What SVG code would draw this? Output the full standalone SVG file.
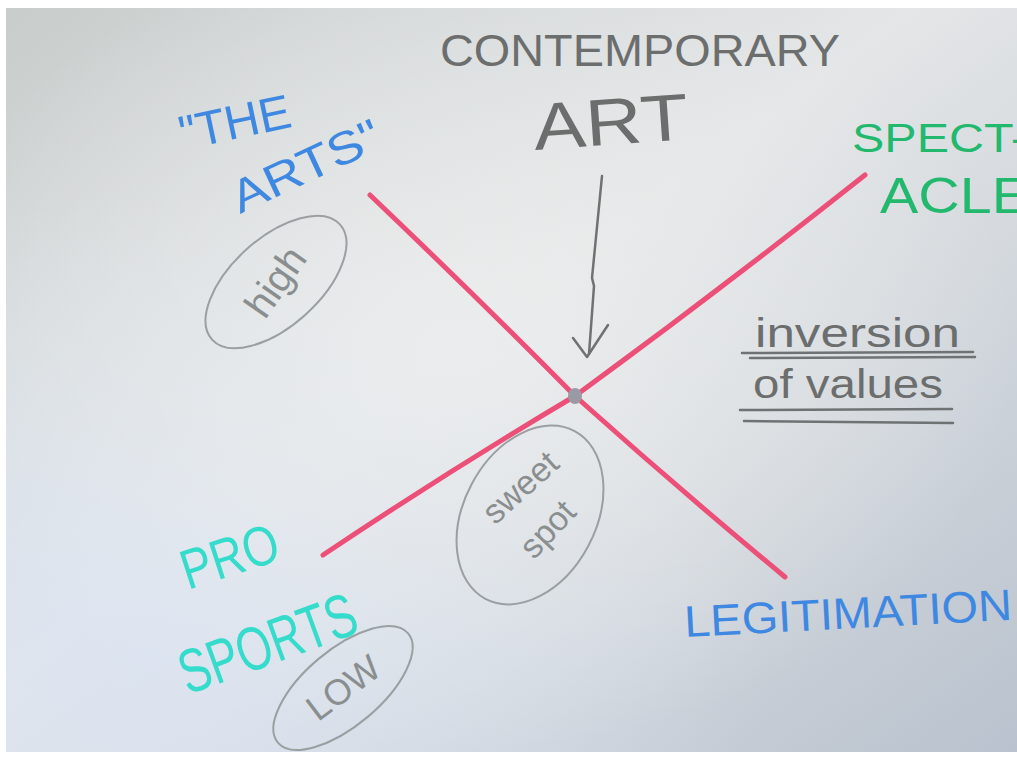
<svg xmlns="http://www.w3.org/2000/svg" width="1017" height="757" viewBox="0 0 1017 757">
  <defs>
    <linearGradient id="bg" x1="0" y1="0" x2="1" y2="1">
      <stop offset="0" stop-color="#c8cdcc"/>
      <stop offset="0.45" stop-color="#e4e6e7"/>
      <stop offset="1" stop-color="#b9c2ce"/>
    </linearGradient>
    <radialGradient id="glow" cx="0.15" cy="0.85" r="0.6">
      <stop offset="0" stop-color="#dbe4f2" stop-opacity="0.9"/>
      <stop offset="1" stop-color="#dbe4f2" stop-opacity="0"/>
    </radialGradient>
    <radialGradient id="light" cx="0.45" cy="0.45" r="0.55">
      <stop offset="0" stop-color="#eceeee" stop-opacity="0.85"/>
      <stop offset="1" stop-color="#eceeee" stop-opacity="0"/>
    </radialGradient>
  </defs>
  <style>
    text { font-family: "Liberation Sans", "DejaVu Sans", sans-serif; }
    .gray { fill: #6c6e6e; }
    .pencil { fill: #8a8e8f; }
    .blue { fill: #3f88e2; }
    .green { fill: #22b96e; }
    .cyan { fill: #35dccb; }
    .ring { fill: none; stroke: #9a9fa2; stroke-width: 2; }
    .axis { stroke: #ec4f78; stroke-width: 5; stroke-linecap: round; fill: none; }
    .rule { stroke: #6e7272; stroke-width: 2.5; fill: none; stroke-linecap: round; }
    .arrow { stroke: #6e7272; stroke-width: 2.5; fill: none; stroke-linecap: round; stroke-linejoin: round; }
  </style>

  <rect x="0" y="0" width="1017" height="757" fill="#ffffff"/>
  <rect x="6" y="8" width="1011" height="744" fill="url(#bg)"/>
  <rect x="6" y="8" width="1011" height="744" fill="url(#glow)"/>
  <rect x="6" y="8" width="1011" height="744" fill="url(#light)"/>

  <g id="connectors">
    <path class="axis" d="M370 195 Q480 300 575 396 Q680 490 785 577"/>
    <path class="axis" d="M323 555 Q450 470 575 396 Q720 290 865 175"/>
    <path class="arrow" d="M602 176 L592 278 L594 286 L589 354"/>
    <path class="arrow" d="M573 338 L587 357 L608 325"/>
  </g>

  <g id="center-point">
    <ellipse cx="575" cy="396" rx="7" ry="8" fill="#9a9aa4"/>
  </g>

  <g id="contemporary-art">
    <text class="gray" x="440" y="66" font-size="44" textLength="400" lengthAdjust="spacingAndGlyphs">CONTEMPORARY</text>
    <text class="gray" x="535" y="150" font-size="66" textLength="155" lengthAdjust="spacingAndGlyphs" transform="rotate(-4 535 150)">ART</text>
  </g>

  <g id="the-arts">
    <text class="blue" x="183" y="150" font-size="48" transform="rotate(-12 183 150)">"THE</text>
    <text class="blue" x="240" y="214" font-size="46" textLength="160" lengthAdjust="spacingAndGlyphs" transform="rotate(-25 240 214)">ARTS"</text>
  </g>

  <g id="high">
    <ellipse class="ring" cx="276" cy="282" rx="86" ry="44" transform="rotate(-42 276 282)"/>
    <text class="pencil" x="276" y="295" font-size="40" text-anchor="middle" transform="rotate(-55 276 282)">high</text>
  </g>

  <g id="spectacle">
    <text class="green" x="852" y="152" font-size="40" textLength="175" lengthAdjust="spacingAndGlyphs">SPECT-</text>
    <text class="green" x="880" y="213" font-size="50" textLength="150" lengthAdjust="spacingAndGlyphs">ACLE</text>
  </g>

  <g id="inversion-of-values">
    <text class="gray" x="755" y="347" font-size="40" textLength="205" lengthAdjust="spacingAndGlyphs">inversion</text>
    <path class="rule" d="M742 353 L973 352 M750 358 L975 357"/>
    <text class="gray" x="753" y="398" font-size="40" textLength="190" lengthAdjust="spacingAndGlyphs">of values</text>
    <path class="rule" d="M740 410 L952 409 M744 421 L953 423"/>
  </g>

  <g id="sweet-spot">
    <ellipse class="ring" cx="530" cy="515" rx="95" ry="66" transform="rotate(-62 530 515)"/>
    <text class="pencil" x="528" y="496" font-size="34" text-anchor="middle" transform="rotate(-42 528 496)">sweet</text>
    <text class="pencil" x="556" y="537" font-size="34" text-anchor="middle" transform="rotate(-47 556 537)">spot</text>
  </g>

  <g id="pro-sports">
    <text class="cyan" x="188" y="590" font-size="56" textLength="100" lengthAdjust="spacingAndGlyphs" transform="rotate(-18 188 590)">PRO</text>
    <text class="cyan" x="188" y="695" font-size="62" textLength="185" lengthAdjust="spacingAndGlyphs" transform="rotate(-20 188 695)">SPORTS</text>
  </g>

  <g id="low">
    <ellipse class="ring" cx="343" cy="688" rx="85" ry="38" transform="rotate(-40 343 688)"/>
    <text class="pencil" x="345" y="690" font-size="36" text-anchor="middle" dominant-baseline="middle" transform="rotate(-37 345 690)">LOW</text>
  </g>

  <g id="legitimation">
    <text class="blue" x="685" y="637" font-size="44" textLength="328" lengthAdjust="spacingAndGlyphs" transform="rotate(-3 685 637)">LEGITIMATION</text>
  </g>
</svg>
